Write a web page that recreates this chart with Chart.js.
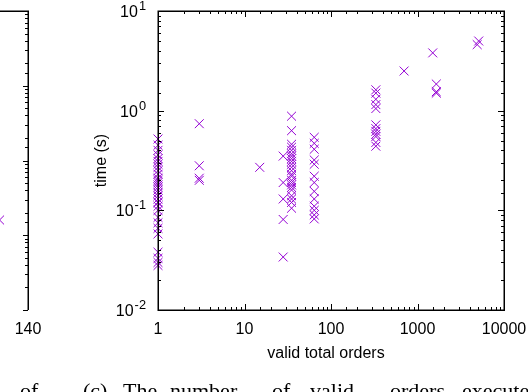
<!DOCTYPE html>
<html><head><meta charset="utf-8">
<script src="https://cdn.jsdelivr.net/npm/chart.js@4/dist/chart.umd.min.js"></script>
<style>
html,body{margin:0;padding:0;background:#fff;overflow:hidden;width:528px;height:392px;}
#main{position:absolute;left:0;top:0;}
#left{position:absolute;left:-300px;top:0;}
.cap{position:absolute;top:380px;font-family:"Liberation Serif","Times New Roman",serif;font-size:22px;line-height:22px;white-space:nowrap;color:#000;}
</style></head><body>
<canvas id="left" width="345" height="392"></canvas>
<canvas id="main" width="528" height="392"></canvas>
<div class="cap" style="left:20px">of</div>
<div class="cap" style="left:83px">(c)</div>
<div class="cap" style="left:123px">The</div>
<div class="cap" style="left:170px">number</div>
<div class="cap" style="left:272px">of</div>
<div class="cap" style="left:310px">valid</div>
<div class="cap" style="left:390px">orders</div>
<div class="cap" style="left:462px">executed</div>
<script>
// ---- data (main chart) ----
const orders1 = [1,1,1,1,1,1,1,1,1,1,1,1,1,1,1,1,1,1,1,1,1,1,1,1,1,1,1,1,1,1,1];
const times1  = [0.52,0.45,0.4,0.36,0.33,0.31,0.29,0.27,0.25,0.23,0.21,0.2,0.19,0.18,0.17,0.16,0.15,0.14,0.13,0.12,0.11,0.1,0.085,0.075,0.066,0.058,0.038,0.033,0.03,0.028,0.12];
const orders3 = [3,3,3,3,15];
const times3  = [0.74,0.28,0.21,0.2,0.27];
const orders28 = [28,28,28,28,28];
const times28  = [0.35,0.19,0.13,0.081,0.034];
const orders35 = [35,35,35,35,35,35,35,35,35,35,35,35,35,35,35,35,35,35,35,35,35,35,35];
const times35  = [0.88,0.63,0.46,0.43,0.4,0.37,0.35,0.33,0.31,0.29,0.27,0.25,0.23,0.22,0.2,0.19,0.18,0.17,0.16,0.14,0.13,0.12,0.105];
const orders64 = [64,64,64,64,64,64,64,64,64,64,64,64,64];
const times64  = [0.54,0.47,0.41,0.32,0.29,0.22,0.19,0.155,0.13,0.11,0.1,0.09,0.082];
const orders330 = [330,330,330,330,330,330,330,330,330,330,330,330];
const times330  = [1.62,1.5,1.3,1.15,1.05,0.72,0.66,0.62,0.58,0.55,0.48,0.44];
const ordersBig = [700,1500,1650,1650,1650,4900,5100];
const timesBig  = [2.5,3.8,1.85,1.55,1.5,4.6,5.0];
const xTickValues = [1,10,100,1000,10000];
const xTickLabels = ['1','10','100','1000','10000'];
const yTickValues = [0.01,0.1,1,10];
const yTickBase = ['10','10','10','10'];
const yTickExp  = ['-2','-1','0','1'];
// ---- data (cropped neighbour chart on the left) ----
const leftX = [127.6];
const leftY = [0.016];

const PURPLE = '#9400d3';
const FONT = '"Liberation Sans", Arial, sans-serif';

function pts(xs, ys){ return xs.map((v,i)=>({x:v, y:ys[i]})); }
const allPoints = [].concat(
  pts(orders1,times1), pts(orders3,times3), pts(orders28,times28),
  pts(orders35,times35), pts(orders64,times64), pts(orders330,times330),
  pts(ordersBig,timesBig));

const isMaj = v => Math.abs(Math.log10(v) - Math.round(Math.log10(v))) < 1e-6;
function findLabel(vals, labels, v){
  for (let i=0;i<vals.length;i++) if (Math.abs(Math.log10(v)-Math.log10(vals[i]))<1e-6) return labels[i];
  return '';
}
function noPad(s){ s.paddingLeft = 0; s.paddingRight = 0; s.paddingTop = 0; s.paddingBottom = 0; }

const mainFrame = {
  id:'mainFrame',
  afterDraw(chart){
    const {ctx, chartArea:a, scales:{x,y}} = chart;
    ctx.save();
    ctx.strokeStyle = '#000';
    ctx.lineWidth = 1;
    ctx.beginPath();
    x.ticks.forEach(t=>{
      const px = Math.round(x.getPixelForValue(t.value)) + 0.5;
      const L = isMaj(t.value) ? 6 : 3;
      ctx.moveTo(px, a.bottom); ctx.lineTo(px, a.bottom - L);
      ctx.moveTo(px, a.top); ctx.lineTo(px, a.top + L);
    });
    y.ticks.forEach(t=>{
      const py = Math.round(y.getPixelForValue(t.value)) + 0.5;
      const L = isMaj(t.value) ? 6 : 3;
      ctx.moveTo(a.left, py); ctx.lineTo(a.left + L, py);
      ctx.moveTo(a.right, py); ctx.lineTo(a.right - L, py);
    });
    ctx.stroke();
    ctx.lineWidth = 1.5;
    ctx.strokeRect(Math.round(a.left)+0.25, Math.round(a.top)+0.25, Math.round(a.right-a.left), Math.round(a.bottom-a.top));
    ctx.fillStyle = '#000';
    // y tick labels: 10 with raised exponent
    ctx.textBaseline = 'alphabetic';
    ctx.textAlign = 'right';
    yTickValues.forEach((v,i)=>{
      const py = y.getPixelForValue(v);
      const xr = a.left - 12;
      ctx.font = '12.8px ' + FONT;
      const ew = ctx.measureText(yTickExp[i]).width;
      ctx.fillText(yTickExp[i], xr, py - 1);
      ctx.font = '16px ' + FONT;
      ctx.fillText(yTickBase[i], xr - ew - 1, py + 6);
    });
    ctx.font = '16px ' + FONT;
    ctx.textAlign = 'center';
    ctx.textBaseline = 'middle';
    ctx.fillText('valid total orders', 326, 354);
    ctx.translate(102, (a.top + a.bottom)/2);
    ctx.rotate(-Math.PI/2);
    ctx.fillText('time (s)', 0, 0);
    ctx.restore();
  }
};

new Chart(document.getElementById('main'), {
  type:'scatter',
  data:{ datasets:[{
    data: allPoints,
    pointStyle:'crossRot', pointRadius:6.3, pointHoverRadius:6.3,
    borderColor:PURPLE, backgroundColor:PURPLE, borderWidth:1, clip:false
  }]},
  options:{
    responsive:false, animation:false, events:[],
    layout:{padding:{top:11,right:24,left:0,bottom:0}},
    plugins:{legend:{display:false}, tooltip:{enabled:false}},
    scales:{
      x:{ type:'logarithmic', min:1, max:10000,
          grid:{display:false, drawTicks:false}, border:{display:false},
          ticks:{ autoSkip:false, maxRotation:0, padding:10, color:'#000',
                  font:{family:FONT, size:16},
                  callback:(v)=>findLabel(xTickValues, xTickLabels, v) },
          afterFit:(s)=>{ s.height = 82; noPad(s); } },
      y:{ type:'logarithmic', min:0.01, max:10,
          grid:{display:false, drawTicks:false}, border:{display:false},
          ticks:{ display:false },
          afterFit:(s)=>{ s.width = 158; noPad(s); } }
    }
  },
  plugins:[mainFrame]
});

const leftFrame = {
  id:'leftFrame',
  afterDraw(chart){
    const {ctx, chartArea:a, scales:{y}} = chart;
    ctx.save();
    ctx.strokeStyle = '#000';
    ctx.lineWidth = 1;
    ctx.beginPath();
    y.ticks.forEach(t=>{
      const py = Math.round(y.getPixelForValue(t.value)) + 0.5;
      const L = isMaj(t.value) ? 5 : 3;
      ctx.moveTo(a.right, py); ctx.lineTo(a.right - L, py);
    });
    ctx.stroke();
    ctx.lineWidth = 1.5;
    ctx.beginPath();
    const r = Math.round(a.right)+0.25, t = Math.round(a.top)+0.25;
    ctx.moveTo(a.left, t); ctx.lineTo(r, t); ctx.lineTo(r, Math.round(a.bottom));
    ctx.stroke();
    ctx.restore();
  }
};

new Chart(document.getElementById('left'), {
  type:'scatter',
  data:{ datasets:[{
    data: pts(leftX, leftY),
    pointStyle:'crossRot', pointRadius:6.3,
    borderColor:PURPLE, backgroundColor:PURPLE, borderWidth:1, clip:false
  }]},
  options:{
    responsive:false, animation:false, events:[],
    layout:{padding:{top:11,right:0,left:0,bottom:0}},
    plugins:{legend:{display:false}, tooltip:{enabled:false}},
    scales:{
      x:{ type:'linear', min:0, max:140,
          grid:{display:false, drawTicks:false}, border:{display:false},
          ticks:{ stepSize:20, autoSkip:false, maxRotation:0, padding:10, color:'#000',
                  font:{family:FONT, size:16},
                  callback:(v)=> v===140 ? '140' : '' },
          afterFit:(s)=>{ s.height = 82; noPad(s); } },
      y:{ type:'logarithmic', position:'right', min:0.001, max:10,
          grid:{display:false, drawTicks:false}, border:{display:false},
          ticks:{ display:false },
          afterFit:(s)=>{ s.width = 17; noPad(s); } }
    }
  },
  plugins:[leftFrame]
});
</script>
</body></html>
